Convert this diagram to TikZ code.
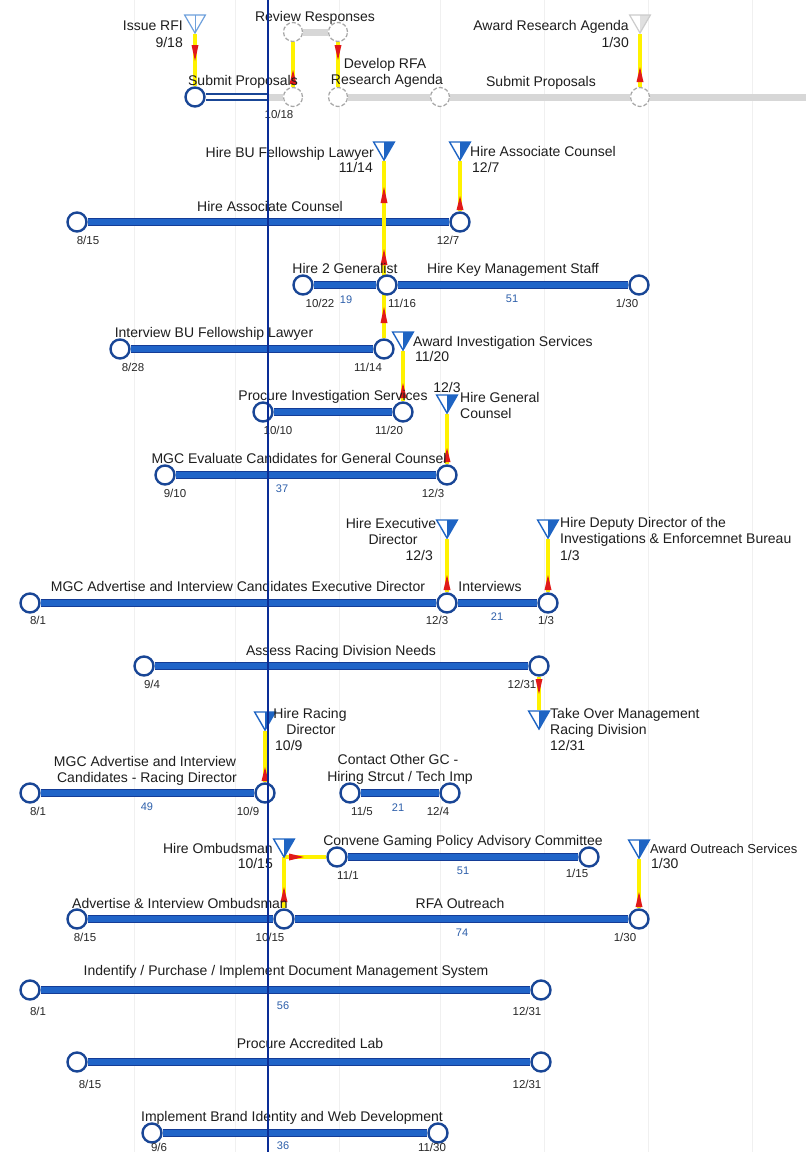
\documentclass[tikz,border=0pt]{standalone}
\usepackage{fontspec}
\setmainfont{Liberation Sans}
\usetikzlibrary{shapes.geometric,backgrounds}
\definecolor{barblue}{RGB}{32,100,200}
\definecolor{bardark}{RGB}{20,60,150}
\definecolor{circdark}{RGB}{25,70,150}
\definecolor{todayblue}{RGB}{10,45,150}
\definecolor{msblue}{RGB}{30,100,195}
\definecolor{mslight}{RGB}{110,160,220}
\definecolor{connyellow}{RGB}{255,242,0}
\definecolor{arrred}{RGB}{225,25,25}
\definecolor{txt}{RGB}{30,30,30}
\definecolor{datetxt}{RGB}{40,40,40}
\definecolor{durblue}{RGB}{45,95,170}
\definecolor{grayline}{RGB}{215,215,215}
\definecolor{gridc}{RGB}{240,240,240}
% red arrow wedge on a vertical connector: x, tip y, base y
\newcommand\redwedge[3]{\fill[arrred] (#1,#2) -- (#1+3.5,#3) -- (#1-3.5,#3) -- cycle;}
% red arrow wedge on a horizontal connector: y, tip x, base x
\newcommand\redwedgeh[3]{\fill[arrred] (#2,#1) -- (#3,#1+3.5) -- (#3,#1-3.5) -- cycle;}
\tikzset{
 circ/.style={circle, draw=circdark, line width=2.4pt, fill=white, minimum size=19pt, inner sep=0pt},
 gcirc/.style={circle, draw=black!35, line width=1.2pt, dash pattern=on 4pt off 2pt, fill=white, minimum size=19pt, inner sep=0pt},
 bar/.style={draw=bardark, line width=1.2pt, double=barblue, double distance=6pt},
 gbar/.style={draw=grayline, line width=7pt},
 conn/.style={draw=connyellow, line width=4.5pt},
 ms/.style={regular polygon, regular polygon sides=3, shape border rotate=180, minimum size=24pt, inner sep=0pt, draw=msblue, line width=1.4pt, fill=white, path picture={\fill[msblue] (path picture bounding box.north) rectangle (path picture bounding box.south east);}},
 msout/.style={regular polygon, regular polygon sides=3, shape border rotate=180, minimum size=24pt, inner sep=0pt, draw=mslight, line width=1.2pt, path picture={\draw[mslight, line width=1pt] (path picture bounding box.north) -- (path picture bounding box.south);}},
 msfaint/.style={regular polygon, regular polygon sides=3, shape border rotate=180, minimum size=24pt, inner sep=0pt, draw=black!20, line width=1.2pt, fill=white, path picture={\fill[black!12] (path picture bounding box.north) rectangle (path picture bounding box.south east);}},
 lbl/.style={text=txt, font=\fontsize{14}{16}\selectfont, inner sep=0pt, text height=10pt, text depth=0pt},
 dt/.style={text=datetxt, font=\fontsize{11.5}{13}\selectfont, inner sep=0pt, text height=8.2pt, text depth=0pt},
 dur/.style={text=durblue, font=\fontsize{11}{13}\selectfont, inner sep=0pt, text height=7.9pt, text depth=0pt},
}
\begin{document}
\begin{tikzpicture}[x=1pt,y=-1pt]
\useasboundingbox (0,0) rectangle (806,1152);
% ---------------- circles (task ends) ----------------
\node[circ]  (sp1s) at (195,97) {};
\node[gcirc] (sp1e) at (293,97) {};
\node[gcirc] (rr1) at (293,32) {};
\node[gcirc] (rr2) at (338,32) {};
\node[gcirc] (drs) at (338,97) {};
\node[gcirc] (dre) at (440,97) {};
\node[gcirc] (sp2e) at (640,97) {};
\coordinate (tSP) at (268,97);
\coordinate (redge) at (806,97);

\node[circ] (hacS) at (77,222) {};
\node[circ] (hacE) at (460,222) {};
\node[circ] (h2gS) at (303,285) {};
\node[circ] (h2gE) at (387,285) {};
\node[circ] (hkE) at (639,285) {};
\node[circ] (ibuS) at (120,349) {};
\node[circ] (ibuE) at (384,349) {};
\node[circ] (pisS) at (263,412) {};
\node[circ] (pisE) at (403,412) {};
\node[circ] (mgeS) at (165,475) {};
\node[circ] (mgeE) at (447,475) {};
\node[circ] (mgaS) at (30,603) {};
\node[circ] (mgaE) at (447,603) {};
\node[circ] (intE) at (548,603) {};
\node[circ] (ardS) at (144,666) {};
\node[circ] (ardE) at (539,666) {};
\node[circ] (mgrS) at (30,793) {};
\node[circ] (mgrE) at (265,793) {};
\node[circ] (cgcS) at (350,793) {};
\node[circ] (cgcE) at (450,793) {};
\node[circ] (cvS) at (337,857) {};
\node[circ] (cvE) at (589,857) {};
\node[circ] (aioS) at (77,919) {};
\node[circ] (aioE) at (284,919) {};
\node[circ] (rfaE) at (639,919) {};
\node[circ] (dmsS) at (30,990) {};
\node[circ] (dmsE) at (541,990) {};
\node[circ] (palS) at (77,1062) {};
\node[circ] (palE) at (541,1062) {};
\node[circ] (ibiS) at (152,1133) {};
\node[circ] (ibiE) at (438,1133) {};
% ---------------- milestones ----------------
\node[msout]   (irfiM) at (195,21) {};
\node[msfaint] (araM) at (640,21) {};
\node[ms] (hbuM) at (384,148) {};
\node[ms] (hacM) at (460,148) {};
\node[ms] (aisM) at (403,338) {};
\node[ms] (hgcM) at (447,401) {};
\node[ms] (hedM) at (447,526) {};
\node[ms] (hddM) at (548,526) {};
\node[ms] (tomM) at (539,717) {};
\node[ms] (hrdM) at (265,718) {};
\node[ms] (hoM) at (284,845) {};
\coordinate (hoA) at (284,857);
\node[ms] (aosM) at (639,846) {};
% ---------------- background: grid, bars, connectors ----------------
\begin{scope}[on background layer]
\fill[white] (0,0) rectangle (806,1152);
\foreach \gx in {134,235,339,440,544,648,752} \draw[gridc, line width=1pt] (\gx,0) -- (\gx,1152);
% gray (past) bars
\draw[draw=circdark, line width=1.8pt, double=white, double distance=4pt] (sp1s) -- (tSP);
\draw[gbar] (tSP) -- (sp1e);
\draw[gbar] (rr1) -- (rr2);
\draw[gbar] (drs) -- (dre);
\draw[gbar] (dre) -- (sp2e);
\draw[gbar] (sp2e) -- (redge);
% blue bars
\draw[bar] (hacS) -- (hacE);
\draw[bar] (h2gS) -- (h2gE);
\draw[bar] (h2gE) -- (hkE);
\draw[bar] (ibuS) -- (ibuE);
\draw[bar] (pisS) -- (pisE);
\draw[bar] (mgeS) -- (mgeE);
\draw[bar] (mgaS) -- (mgaE);
\draw[bar] (mgaE) -- (intE);
\draw[bar] (ardS) -- (ardE);
\draw[bar] (mgrS) -- (mgrE);
\draw[bar] (cgcS) -- (cgcE);
\draw[bar] (cvS) -- (cvE);
\draw[bar] (aioS) -- (aioE);
\draw[bar] (aioE) -- (rfaE);
\draw[bar] (dmsS) -- (dmsE);
\draw[bar] (palS) -- (palE);
\draw[bar] (ibiS) -- (ibiE);
% connectors
\draw[conn] (irfiM) -- (sp1s);
\draw[conn] (sp1e) -- (rr1);
\draw[conn] (rr2) -- (drs);
\draw[conn] (sp2e) -- (araM);
\draw[conn] (hacE) -- (hacM);
\draw[conn] (ibuE) -- (hbuM);
\draw[conn] (pisE) -- (aisM);
\draw[conn] (mgeE) -- (hgcM);
\draw[conn] (mgaE) -- (hedM);
\draw[conn] (intE) -- (hddM);
\draw[conn] (ardE) -- (tomM);
\draw[conn] (mgrE) -- (hrdM);
\draw[conn] (aioE) -- (hoA);
\draw[conn] (hoA) -- (cvS);
\draw[conn] (rfaE) -- (aosM);
% red arrowheads on the connectors
\redwedge{195}{61}{45}
\redwedge{293}{70}{84}
\redwedge{338}{60}{45}
\redwedge{640}{67}{82}
\redwedge{460}{196}{210}
\redwedge{384}{187}{203}
\redwedge{384}{249}{265}
\redwedge{384}{307}{323}
\redwedge{403}{383}{398}
\redwedge{447}{448}{462}
\redwedge{447}{575}{590}
\redwedge{548}{575}{590}
\redwedge{539}{694}{679}
\redwedge{265}{767}{781}
\redwedge{284}{887}{902}
\redwedgeh{857}{304}{289}
\redwedge{639}{892}{907}
\end{scope}
% ---------------- texts ----------------
\node[lbl, anchor=east] (irfiL) at (183,25) {Issue RFI};
\node[lbl, anchor=east] (irfiD) at (183,42) {9/18};
\node[lbl] (rrL) at (315,16) {Review Responses};
\node[lbl] (spL1) at (243,80) {Submit Proposals};
\node[dt] (spD1) at (279,114) {10/18};
\node[lbl] (drL1) at (385,63) {Develop RFA};
\node[lbl] (drL2) at (387,79) {Research Agenda};
\node[lbl] (spL2) at (541,81) {Submit Proposals};
\node[lbl, anchor=east] (araL) at (629,25) {Award Research Agenda};
\node[lbl, anchor=east] (araD) at (629,42) {1/30};

\node[lbl, anchor=east] (hbuL) at (374,152) {Hire BU Fellowship Lawyer};
\node[lbl, anchor=east] (hbuD) at (373,167) {11/14};
\node[lbl, anchor=west] (hacmL) at (470,151) {Hire Associate Counsel};
\node[lbl, anchor=west] (hacmD) at (472,167) {12/7};
\node[lbl] (hacL) at (270,206) {Hire Associate Counsel};
\node[dt] (hacD1) at (88,240) {8/15};
\node[dt] (hacD2) at (448,240) {12/7};

\node[lbl] (h2gL) at (345,268) {Hire 2 Generalist};
\node[dt] (h2gD1) at (320,303) {10/22};
\node[dur] (h2gN) at (346,300) {19};
\node[dt] (h2gD2) at (402,303) {11/16};
\node[lbl] (hkL) at (513,268) {Hire Key Management Staff};
\node[dur] (hkN) at (512,299) {51};
\node[dt] (hkD) at (627,303) {1/30};

\node[lbl] (ibuL) at (214,332) {Interview BU Fellowship Lawyer};
\node[dt] (ibuD1) at (133,367) {8/28};
\node[dt] (ibuD2) at (368,367) {11/14};
\node[lbl, anchor=west] (aisL) at (413,341) {Award Investigation Services};
\node[lbl, anchor=west] (aisD) at (415,356) {11/20};

\node[lbl] (pisL) at (333,395) {Procure Investigation Services};
\node[dt] (pisD1) at (278,430) {10/10};
\node[dt] (pisD2) at (389,430) {11/20};
\node[lbl] (hgcD) at (447,387) {12/3};
\node[lbl, anchor=west] (hgcL1) at (460,397) {Hire General};
\node[lbl, anchor=west] (hgcL2) at (460,413) {Counsel};

\node[lbl] (mgeL) at (299,458) {MGC Evaluate Candidates for General Counsel};
\node[dt] (mgeD1) at (175,493) {9/10};
\node[dur] (mgeN) at (282,489) {37};
\node[dt] (mgeD2) at (433,493) {12/3};

\node[lbl] (hedL1) at (391,523) {Hire Executive};
\node[lbl] (hedL2) at (393,539) {Director};
\node[lbl, anchor=east] (hedD) at (433,555) {12/3};
\node[lbl, anchor=west] (hddL1) at (560,522) {Hire Deputy Director of the};
\node[lbl, anchor=west] (hddL2) at (560,538) {Investigations \& Enforcemnet Bureau};
\node[lbl, anchor=west] (hddD) at (560,555) {1/3};
\node[lbl] (mgaL) at (238,586) {MGC Advertise and Interview Candidates Executive Director};
\node[dt] (mgaD1) at (38,620) {8/1};
\node[dt] (mgaD2) at (437,620) {12/3};
\node[lbl] (intL) at (490,586) {Interviews};
\node[dur] (intN) at (497,617) {21};
\node[dt] (intD) at (546,620) {1/3};

\node[lbl] (ardL) at (341,650) {Assess Racing Division Needs};
\node[dt] (ardD1) at (152,684) {9/4};
\node[dt] (ardD2) at (522,684) {12/31};
\node[lbl, anchor=west] (tomL1) at (550,713) {Take Over Management};
\node[lbl, anchor=west] (tomL2) at (550,729) {Racing Division};
\node[lbl, anchor=west] (tomD) at (550,745) {12/31};
\node[lbl] (hrdL1) at (310,713) {Hire Racing};
\node[lbl] (hrdL2) at (311,729) {Director};
\node[lbl, anchor=west] (hrdD) at (275,745) {10/9};

\node[lbl] (mgrL1) at (145,761) {MGC Advertise and Interview};
\node[lbl] (mgrL2) at (147,777) {Candidates - Racing Director};
\node[dt] (mgrD1) at (38,811) {8/1};
\node[dur] (mgrN) at (147,807) {49};
\node[dt] (mgrD2) at (248,811) {10/9};
\node[lbl] (cgcL1) at (398,759) {Contact Other GC -};
\node[lbl] (cgcL2) at (400,776) {Hiring Strcut / Tech Imp};
\node[dt] (cgcD1) at (362,811) {11/5};
\node[dur] (cgcN) at (398,808) {21};
\node[dt] (cgcD2) at (438,811) {12/4};

\node[lbl, anchor=east] (hoL) at (273,848) {Hire Ombudsman};
\node[lbl, anchor=east] (hoD) at (273,863) {10/15};
\node[lbl] (cvL) at (463,840) {Convene Gaming Policy Advisory Committee};
\node[dt] (cvD1) at (348,875) {11/1};
\node[dur] (cvN) at (463,871) {51};
\node[dt] (cvD2) at (577,873) {1/15};
\node[lbl, anchor=west, font=\fontsize{13}{15}\selectfont] (aosL) at (650,848) {Award Outreach Services};
\node[lbl, anchor=west] (aosD) at (651,863) {1/30};
\node[lbl] (aioL) at (180,903) {Advertise \& Interview Ombudsman};
\node[dt] (aioD1) at (85,937) {8/15};
\node[dt] (aioD2) at (270,937) {10/15};
\node[lbl] (rfaL) at (460,903) {RFA Outreach};
\node[dur] (rfaN) at (462,933) {74};
\node[dt] (rfaD) at (625,937) {1/30};

\node[lbl] (dmsL) at (286,970) {Indentify / Purchase / Implement Document Management System};
\node[dt] (dmsD1) at (38,1011) {8/1};
\node[dur] (dmsN) at (283,1006) {56};
\node[dt] (dmsD2) at (527,1011) {12/31};
\node[lbl] (palL) at (310,1043) {Procure Accredited Lab};
\node[dt] (palD1) at (90,1084) {8/15};
\node[dt] (palD2) at (527,1084) {12/31};
\node[lbl] (ibiL) at (292,1116) {Implement Brand Identity and Web Development};
\node[dt] (ibiD1) at (159,1147) {9/6};
\node[dur] (ibiN) at (283,1146) {36};
\node[dt] (ibiD2) at (432,1147) {11/30};
% ---------------- today line ----------------
\coordinate (tTop) at (268,0);
\coordinate (tBot) at (268,1152);
\draw[todayblue, line width=2pt] (tTop) -- (tBot);
\end{tikzpicture}
\end{document}
